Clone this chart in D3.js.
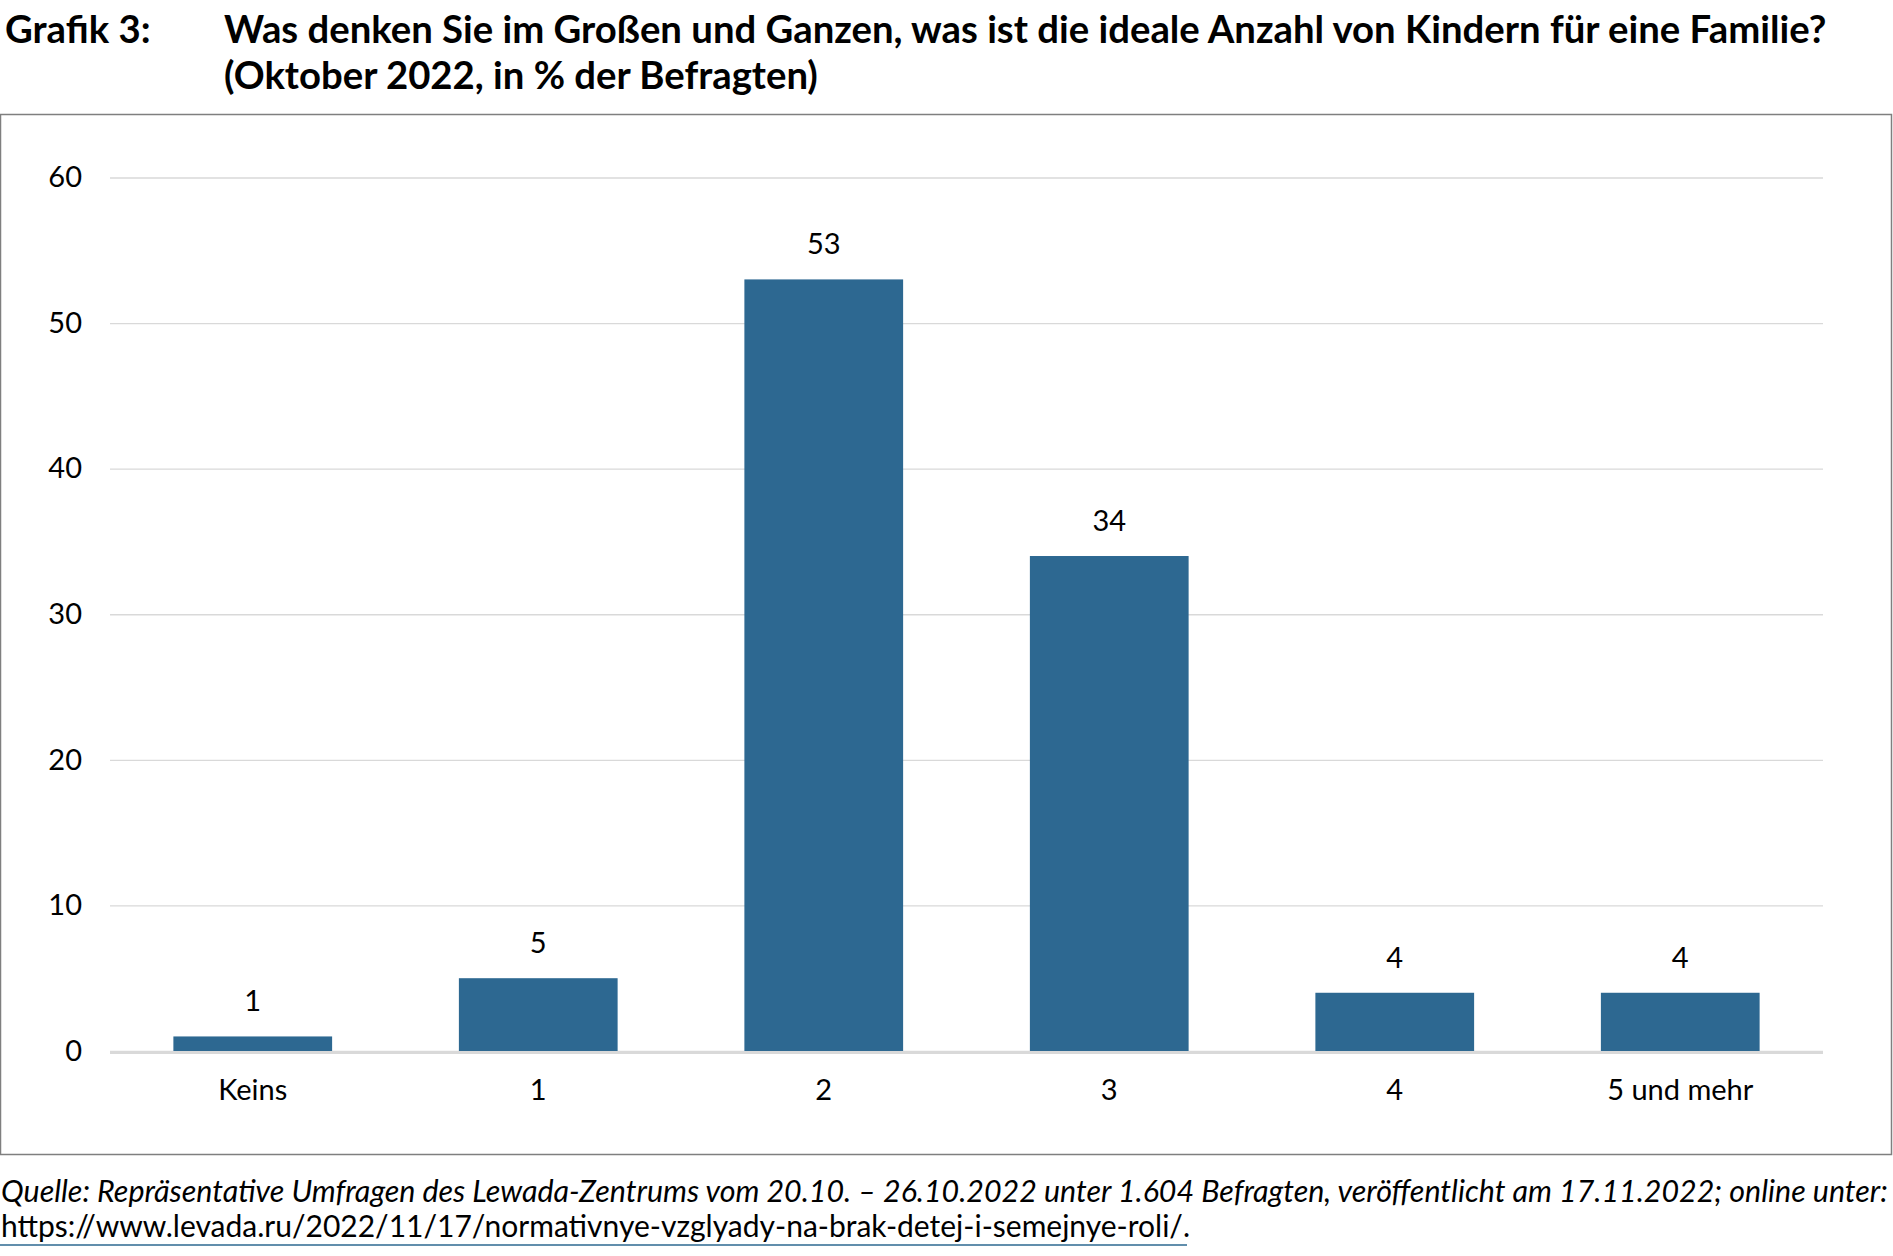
<!DOCTYPE html>
<html lang="de">
<head>
    <meta charset="UTF-8">
    <title>Grafik 3: Ideale Anzahl von Kindern</title>
    <script src="https://d3js.org/d3.v7.min.js"></script>
    <style>
        body {
            margin: 0;
            background: #fff;
            font-family: Lato, "Open Sans", sans-serif;
        }
    </style>
</head>
<body>
    <div id="chart"></div>

    <script>
        // Data
        const categories = ["Keins", "1", "2", "3", "4", "5 und mehr"];
        const values = [1, 5, 53, 34, 4, 4];
        const yTicks = [0, 10, 20, 30, 40, 50, 60];

        const W = 1893, H = 1256;
        const plot = {left: 110, right: 1823, top: 177.5, bottom: 1051};

        const svg = d3.select("#chart")
            .append("svg")
              .attr("width", W)
              .attr("height", H);

        // Title
        svg.append("text")
            .attr("x", 5).attr("y", 43)
            .attr("font-size", 38.3).attr("font-weight", "bold")
            .text("Grafik 3:");
        svg.append("text")
            .attr("x", 224).attr("y", 43)
            .attr("font-size", 38.3).attr("font-weight", "bold")
            .text("Was denken Sie im Großen und Ganzen, was ist die ideale Anzahl von Kindern für eine Familie?");
        svg.append("text")
            .attr("x", 224).attr("y", 89)
            .attr("font-size", 38.3).attr("font-weight", "bold")
            .text("(Oktober 2022, in % der Befragten)");

        // Frame
        svg.append("rect")
            .attr("x", 0.5).attr("y", 114.5)
            .attr("width", 1891).attr("height", 1040)
            .attr("fill", "none")
            .attr("stroke", "#7f7f7f")
            .attr("stroke-width", 1.5);

        // Scales
        const x = d3.scaleBand()
            .domain(categories)
            .range([plot.left, plot.right])
            .paddingInner(0.444)
            .paddingOuter(0.222);

        const y = d3.scaleLinear()
            .domain([0, 60])
            .range([plot.bottom, plot.top]);

        // Gridlines + y labels
        const yAxis = svg.append("g")
            .attr("transform", `translate(${plot.left},0)`)
            .call(d3.axisLeft(y)
                .tickValues(yTicks)
                .tickSize(-(plot.right - plot.left))
                .tickPadding(28));
        yAxis.select(".domain").remove();
        yAxis.selectAll(".tick line")
            .attr("stroke", "#d9d9d9")
            .attr("stroke-width", 1.3);
        yAxis.selectAll(".tick text")
            .attr("font-family", "Lato")
            .attr("font-size", 29)
            .attr("fill", "#000");

        // Bars
        svg.append("g")
            .selectAll("rect")
            .data(values)
            .join("rect")
              .attr("x", (d, i) => x(categories[i]))
              .attr("y", d => y(d))
              .attr("width", x.bandwidth())
              .attr("height", d => y(0) - y(d))
              .attr("fill", "#2d6891");

        // Baseline axis
        svg.append("line")
            .attr("x1", plot.left).attr("x2", plot.right)
            .attr("y1", y(0) + 1.5).attr("y2", y(0) + 1.5)
            .attr("stroke", "#d9d9d9")
            .attr("stroke-width", 3);

        // Value labels
        svg.append("g")
            .selectAll("text")
            .data(values)
            .join("text")
              .attr("x", (d, i) => x(categories[i]) + x.bandwidth() / 2)
              .attr("y", d => y(d) - 25)
              .attr("text-anchor", "middle")
              .attr("font-size", 29)
              .text(d => d);

        // X axis labels
        const xAxis = svg.append("g")
            .attr("transform", `translate(0,${plot.bottom})`)
            .call(d3.axisBottom(x).tickSize(0).tickPadding(28));
        xAxis.select(".domain").remove();
        xAxis.selectAll(".tick text")
            .attr("font-family", "Lato")
            .attr("font-size", 29)
            .attr("fill", "#000");

        // Source
        svg.append("text")
            .attr("x", 1).attr("y", 1202)
            .attr("font-size", 30.4).attr("font-style", "italic")
            .text("Quelle: Repräsentative Umfragen des Lewada-Zentrums vom 20.10. – 26.10.2022 unter 1.604 Befragten, veröffentlicht am 17.11.2022; online unter:");
        svg.append("text")
            .attr("x", 1).attr("y", 1237)
            .attr("font-size", 30)
            .text("https://www.levada.ru/2022/11/17/normativnye-vzglyady-na-brak-detej-i-semejnye-roli/.");
        svg.append("line")
            .attr("x1", 0).attr("x2", 1187)
            .attr("y1", 1245).attr("y2", 1245)
            .attr("stroke", "#2d6891")
            .attr("stroke-width", 1.5);
    </script>
</body>
</html>
